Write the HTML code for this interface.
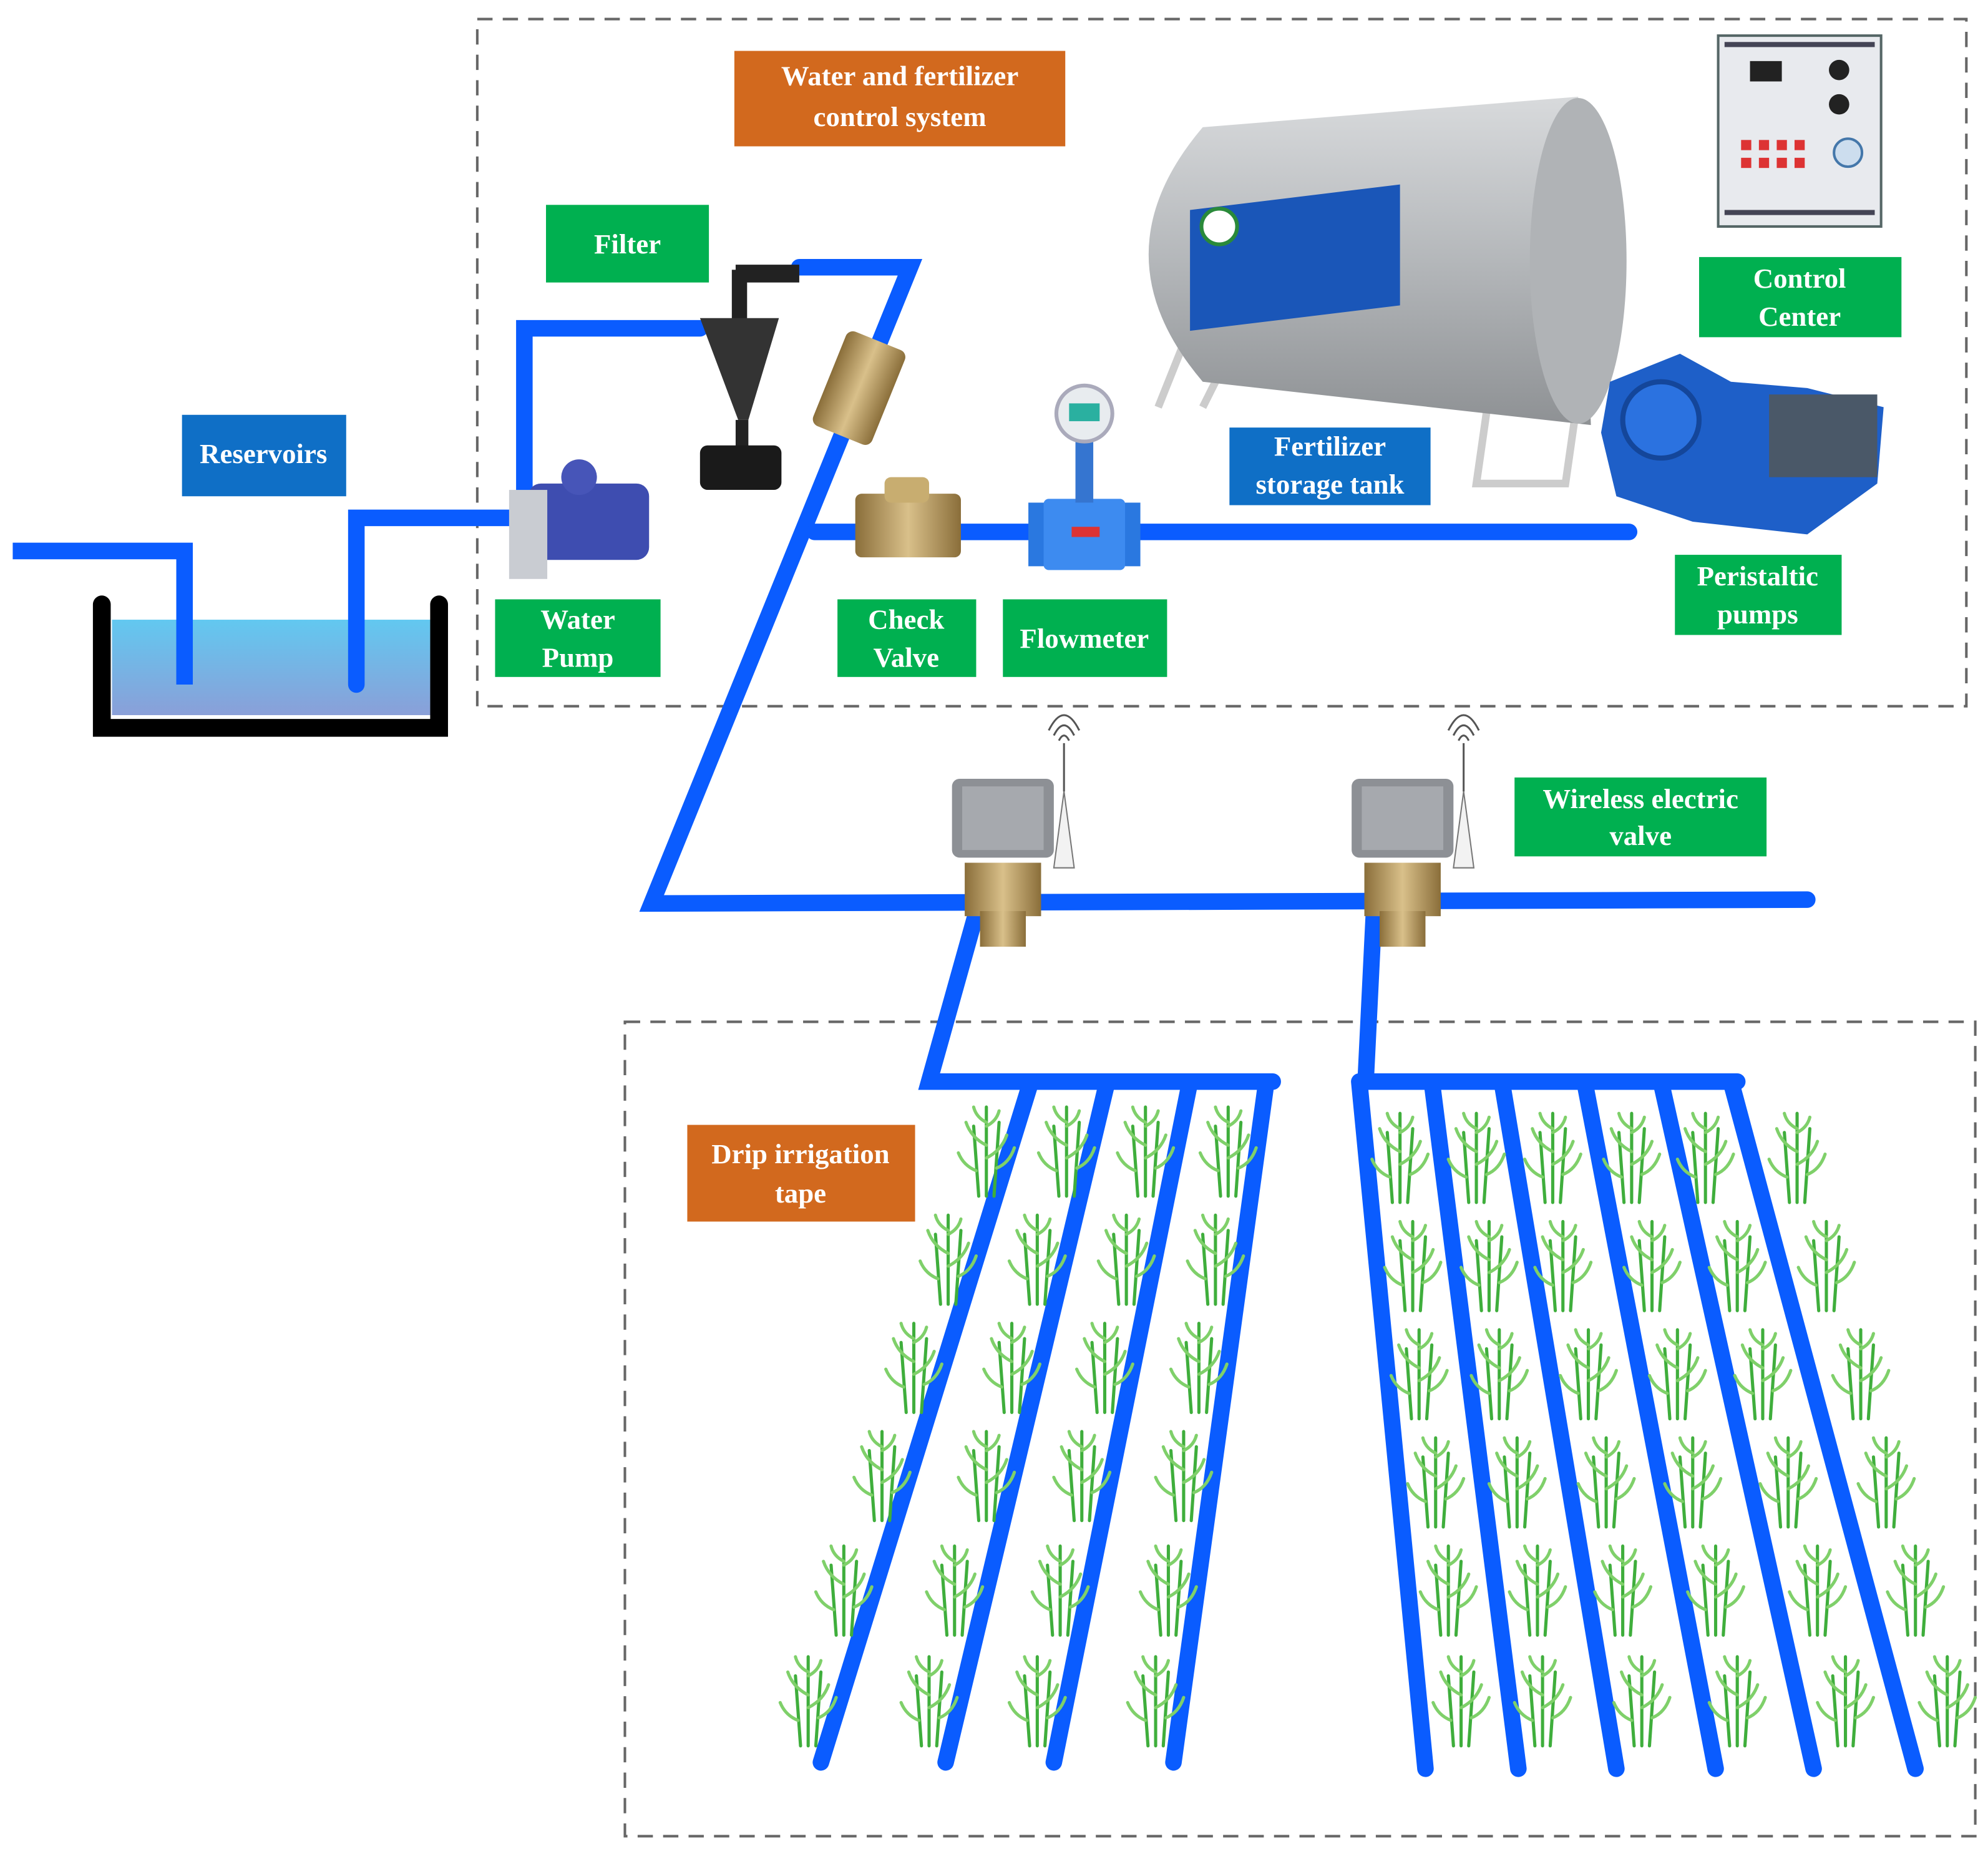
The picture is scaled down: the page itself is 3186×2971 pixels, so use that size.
<!DOCTYPE html>
<html><head><meta charset="utf-8"><style>
html,body{margin:0;padding:0;background:#fff;}
svg{display:block;}
text{font-family:"Liberation Serif",serif;font-weight:bold;fill:#fff;font-size:22px;text-anchor:middle;}
</style></head><body>
<svg width="3186" height="2971" viewBox="0 0 1562 1457" preserveAspectRatio="none" xmlns="http://www.w3.org/2000/svg">
<defs>
<linearGradient id="water" x1="0" y1="0" x2="0" y2="1"><stop offset="0" stop-color="#62c8f0"/><stop offset="1" stop-color="#8a9fd8"/></linearGradient>
<linearGradient id="tank" x1="0" y1="0" x2="0" y2="1"><stop offset="0" stop-color="#d8dadc"/><stop offset="0.5" stop-color="#b4b7ba"/><stop offset="1" stop-color="#8e9194"/></linearGradient>
<linearGradient id="brass" x1="0" y1="0" x2="1" y2="0"><stop offset="0" stop-color="#8a6e3a"/><stop offset="0.5" stop-color="#d9c08a"/><stop offset="1" stop-color="#8a6e3a"/></linearGradient>
<g id="plant" stroke="#3fae3c" stroke-width="2.5" fill="none" stroke-linecap="round">
<path d="M0 0 L0 -70 M-6 0 L-10 -55 M6 0 L10 -58"/>
<path d="M0 -40 q-12 -6 -16 -18 M0 -30 q12 -6 16 -18 M-8 -20 q-10 -4 -14 -14 M8 -22 q10 -4 14 -16 M0 -58 q-8 -4 -10 -12 M0 -55 q8 -4 10 -12" stroke="#7fd06a"/>
</g>
<g id="wvalve">
<rect x="0" y="0" width="80" height="62" rx="6" fill="#8d9095"/>
<rect x="8" y="6" width="64" height="50" fill="#a6a9ae"/>
<path d="M80 70 L88 10 L96 70 Z" fill="#f2f2f2" stroke="#777"/>
<path d="M84 -30 q4 -8 8 0 M80 -34 q8 -16 16 0 M76 -38 q12 -24 24 0" stroke="#555" fill="none" stroke-width="1.5"/>
<line x1="88" y1="-28" x2="88" y2="10" stroke="#555" stroke-width="1.5"/>
<rect x="10" y="66" width="60" height="42" fill="url(#brass)"/>
<rect x="22" y="104" width="36" height="28" fill="url(#brass)"/>
</g>
</defs>
<rect x="375" y="15" width="1170" height="540" fill="none" stroke="#666" stroke-width="2" stroke-dasharray="12,8"/>
<rect x="491" y="803" width="1061" height="640" fill="none" stroke="#666" stroke-width="2" stroke-dasharray="12,8"/>
<rect x="88" y="487" width="250" height="75" fill="url(#water)"/>
<path d="M80 475 L80 572 L345 572 L345 475" fill="none" stroke="#000" stroke-width="14" stroke-linecap="round"/>
<g fill="none" stroke="#0a5cff" stroke-width="13" stroke-linecap="round" stroke-linejoin="miter">
<path d="M10 433 L145 433 L145 538" stroke-linecap="butt"/>
<path d="M280 538 L280 407 L400 407"/>
<path d="M412 400 L412 258 L550 258"/>
<path d="M628 210 L715 210 L512 710 L1420 707"/>
<path d="M640 418 L1280 418"/>
<path d="M770 707 L730 850 L1000 850"/>
<path d="M810 850 L645 1385 M870 850 L743 1385 M935 850 L828 1385 M995 850 L922 1385"/>
<path d="M1080 707 L1073 850 L1365 850"/>
<path d="M1068 850 L1120 1390 M1125 850 L1193 1390 M1180 850 L1270 1390 M1245 850 L1348 1390 M1305 850 L1425 1390 M1360 850 L1505 1390"/>
</g>
<path d="M930 270 L910 320 M960 290 L945 320 M1170 310 L1160 380 L1230 380 L1240 310" stroke="#ccc" stroke-width="6" fill="none"/>
<path d="M945 100 L1240 76 L1250 334 L945 300 Q860 200 945 100 Z" fill="url(#tank)"/>
<ellipse cx="1240" cy="205" rx="38" ry="128" fill="#b0b3b6"/>
<path d="M935 165 L1100 145 L1100 240 L935 260 Z" fill="#1a56b8"/>
<circle cx="958" cy="178" r="14" fill="#fff" stroke="#2a8a3a" stroke-width="3"/>
<rect x="1350" y="28" width="128" height="150" fill="#e8eaee" stroke="#566" stroke-width="2"/>
<rect x="1355" y="33" width="118" height="4" fill="#445"/>
<rect x="1355" y="165" width="118" height="4" fill="#445"/>
<rect x="1375" y="48" width="25" height="16" fill="#222"/>
<circle cx="1445" cy="55" r="8" fill="#222"/><circle cx="1445" cy="82" r="8" fill="#222"/>
<g fill="#d33"><rect x="1368" y="110" width="8" height="8"/><rect x="1382" y="110" width="8" height="8"/><rect x="1396" y="110" width="8" height="8"/><rect x="1410" y="110" width="8" height="8"/><rect x="1368" y="124" width="8" height="8"/><rect x="1382" y="124" width="8" height="8"/><rect x="1396" y="124" width="8" height="8"/><rect x="1410" y="124" width="8" height="8"/></g>
<circle cx="1452" cy="120" r="11" fill="#cde" stroke="#47a" stroke-width="2"/>
<path d="M1265 300 L1320 278 L1360 300 L1420 305 L1480 320 L1475 380 L1420 420 L1330 410 L1270 390 L1258 340 Z" fill="#1e5fc8"/>
<rect x="1390" y="310" width="85" height="65" fill="#4a5868"/>
<circle cx="1305" cy="330" r="30" fill="#2b72e0" stroke="#14469a" stroke-width="4"/>
<rect x="415" y="380" width="95" height="60" rx="10" fill="#3e4db0"/>
<circle cx="455" cy="375" r="14" fill="#4755b8"/>
<rect x="400" y="385" width="30" height="70" fill="#c9ccd2"/>
<rect x="578" y="208" width="50" height="14" fill="#222"/>
<rect x="575" y="212" width="12" height="50" fill="#222"/>
<path d="M550 250 L612 250 L588 330 L580 330 Z" fill="#333"/>
<rect x="578" y="330" width="10" height="30" fill="#222"/>
<rect x="550" y="350" width="64" height="35" rx="6" fill="#1a1a1a"/>
<g transform="rotate(22 675 305)"><rect x="650" y="265" width="50" height="80" rx="6" fill="url(#brass)"/></g>
<rect x="672" y="388" width="83" height="50" rx="5" fill="url(#brass)"/>
<rect x="695" y="375" width="35" height="20" rx="5" fill="#c8ad70"/>
<rect x="808" y="395" width="88" height="50" fill="#2a78e0"/>
<rect x="820" y="392" width="64" height="56" rx="4" fill="#3d8bf0"/>
<rect x="845" y="340" width="14" height="55" fill="#3575d0"/>
<circle cx="852" cy="325" r="22" fill="#e8ecef" stroke="#aab" stroke-width="3"/>
<rect x="840" y="317" width="24" height="14" fill="#2ab0a0"/>
<rect x="842" y="414" width="22" height="8" fill="#d33"/>
<use href="#wvalve" x="748" y="612"/>
<use href="#wvalve" x="1062" y="612"/>
<g>
<use href="#plant" x="775" y="940"/><use href="#plant" x="838" y="940"/><use href="#plant" x="900" y="940"/><use href="#plant" x="965" y="940"/>
<use href="#plant" x="1100" y="945"/><use href="#plant" x="1160" y="945"/><use href="#plant" x="1220" y="945"/><use href="#plant" x="1282" y="945"/><use href="#plant" x="1340" y="945"/><use href="#plant" x="1412" y="945"/>
<use href="#plant" x="745" y="1025"/><use href="#plant" x="815" y="1025"/><use href="#plant" x="885" y="1025"/><use href="#plant" x="955" y="1025"/>
<use href="#plant" x="1110" y="1030"/><use href="#plant" x="1170" y="1030"/><use href="#plant" x="1228" y="1030"/><use href="#plant" x="1298" y="1030"/><use href="#plant" x="1365" y="1030"/><use href="#plant" x="1435" y="1030"/>
<use href="#plant" x="718" y="1110"/><use href="#plant" x="795" y="1110"/><use href="#plant" x="868" y="1110"/><use href="#plant" x="942" y="1110"/>
<use href="#plant" x="1115" y="1115"/><use href="#plant" x="1178" y="1115"/><use href="#plant" x="1248" y="1115"/><use href="#plant" x="1318" y="1115"/><use href="#plant" x="1385" y="1115"/><use href="#plant" x="1462" y="1115"/>
<use href="#plant" x="693" y="1195"/><use href="#plant" x="775" y="1195"/><use href="#plant" x="850" y="1195"/><use href="#plant" x="930" y="1195"/>
<use href="#plant" x="1128" y="1200"/><use href="#plant" x="1192" y="1200"/><use href="#plant" x="1262" y="1200"/><use href="#plant" x="1330" y="1200"/><use href="#plant" x="1405" y="1200"/><use href="#plant" x="1482" y="1200"/>
<use href="#plant" x="663" y="1285"/><use href="#plant" x="750" y="1285"/><use href="#plant" x="833" y="1285"/><use href="#plant" x="918" y="1285"/>
<use href="#plant" x="1138" y="1285"/><use href="#plant" x="1208" y="1285"/><use href="#plant" x="1275" y="1285"/><use href="#plant" x="1348" y="1285"/><use href="#plant" x="1428" y="1285"/><use href="#plant" x="1505" y="1285"/>
<use href="#plant" x="635" y="1372"/><use href="#plant" x="730" y="1372"/><use href="#plant" x="815" y="1372"/><use href="#plant" x="908" y="1372"/>
<use href="#plant" x="1148" y="1372"/><use href="#plant" x="1212" y="1372"/><use href="#plant" x="1290" y="1372"/><use href="#plant" x="1365" y="1372"/><use href="#plant" x="1450" y="1372"/><use href="#plant" x="1530" y="1372"/>
</g>
<rect x="577" y="40" width="260" height="75" fill="#d2691e"/>
<text x="707" y="67">Water and fertilizer</text><text x="707" y="99">control system</text>
<rect x="429" y="161" width="128" height="61" fill="#00b050"/><text x="493" y="199">Filter</text>
<rect x="143" y="326" width="129" height="64" fill="#0f6fc6"/><text x="207" y="364">Reservoirs</text>
<rect x="389" y="471" width="130" height="61" fill="#00b050"/><text x="454" y="494">Water</text><text x="454" y="524">Pump</text>
<rect x="658" y="471" width="109" height="61" fill="#00b050"/><text x="712" y="494">Check</text><text x="712" y="524">Valve</text>
<rect x="788" y="471" width="129" height="61" fill="#00b050"/><text x="852" y="509">Flowmeter</text>
<rect x="966" y="336" width="158" height="61" fill="#0f6fc6"/><text x="1045" y="358">Fertilizer</text><text x="1045" y="388">storage tank</text>
<rect x="1335" y="202" width="159" height="63" fill="#00b050"/><text x="1414" y="226">Control</text><text x="1414" y="256">Center</text>
<rect x="1316" y="436" width="131" height="63" fill="#00b050"/><text x="1381" y="460">Peristaltic</text><text x="1381" y="490">pumps</text>
<rect x="1190" y="611" width="198" height="62" fill="#00b050"/><text x="1289" y="635">Wireless electric</text><text x="1289" y="664">valve</text>
<rect x="540" y="884" width="179" height="76" fill="#d2691e"/><text x="629" y="914">Drip irrigation</text><text x="629" y="945">tape</text>
</svg>
</body></html>
